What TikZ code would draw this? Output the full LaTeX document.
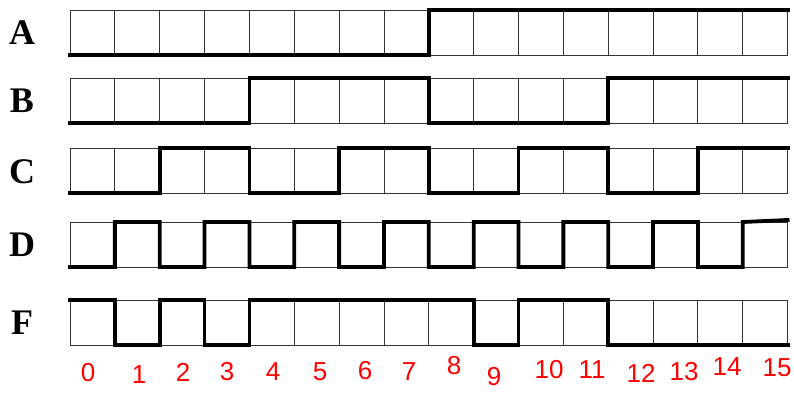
\documentclass[tikz,border=0pt]{standalone}
\usepackage{fontspec}
\setmainfont{Liberation Serif}
\newfontfamily\handfont{Liberation Sans}
\begin{document}
\begin{tikzpicture}[x=1pt,y=-1pt,
  gridline/.style={draw=black!80,line width=0.9pt},
  sig/.style={line width=3.8pt,line join=miter,line cap=rect},
  lab/.style={font=\fontsize{36}{36}\selectfont\bfseries,inner sep=0pt},
  num/.style={text=red,font=\handfont\fontsize{26}{26}\selectfont,inner sep=0pt}]
\useasboundingbox (0,0) rectangle (794,392);
\fill[white] (0,0) rectangle (794,392);
% grids
\foreach \t in {10,78,148,222,300}
  \foreach \k in {0,...,15}
    \draw[gridline] ({70+\k*44.85},\t) rectangle ++(44.85,45);
% row labels
\node[lab] (lA) at (22,33) {A};
\node[lab] (lB) at (22,101) {B};
\node[lab] (lC) at (22,172) {C};
\node[lab] (lD) at (22,245) {D};
\node[lab] (lF) at (22,323) {F};
% signals
\draw[sig] (70,55) -| (428.8,10) -- (787.6,10);
\draw[sig] (70,123) -| (249.4,78) -| (428.8,123) -| (608.2,78) -- (787.6,78);
\draw[sig] (70,193) -| (159.7,148) -| (249.4,193) -| (339.1,148) -| (428.8,193)
  -| (518.5,148) -| (608.2,193) -| (697.9,148) -- (787.6,148);
\draw[sig] (70,267) -| (114.85,222) -| (159.7,267) -| (204.55,222) -| (249.4,267)
  -| (294.25,222) -| (339.1,267) -| (383.95,222) -| (428.8,267) -| (473.65,222)
  -| (518.5,267) -| (563.35,222) -| (608.2,267) -| (653.05,222) -| (697.9,267)
  -| (742.75,222) -- (787.6,220);
\draw[sig] (70,300) -| (114.85,345) -| (159.7,300) -| (204.55,345) -| (249.4,300)
  -| (473.65,345) -| (518.5,300) -| (608.2,345) -- (787.6,345);
% numbers
\node[num] (n0) at (88,373) {0};
\node[num] (n1) at (139,375) {1};
\node[num] (n2) at (183,372) {2};
\node[num] (n3) at (227,372) {3};
\node[num] (n4) at (273,372) {4};
\node[num] (n5) at (320,372) {5};
\node[num] (n6) at (365,371) {6};
\node[num] (n7) at (409,372) {7};
\node[num] (n8) at (454,366) {8};
\node[num] (n9) at (494,377) {9};
\node[num] (n10) at (549,370) {10};
\node[num] (n11) at (592,370) {11};
\node[num] (n12) at (641,373) {12};
\node[num] (n13) at (684,372) {13};
\node[num] (n14) at (727,367) {14};
\node[num] (n15) at (777,368) {15};
\end{tikzpicture}
\end{document}
